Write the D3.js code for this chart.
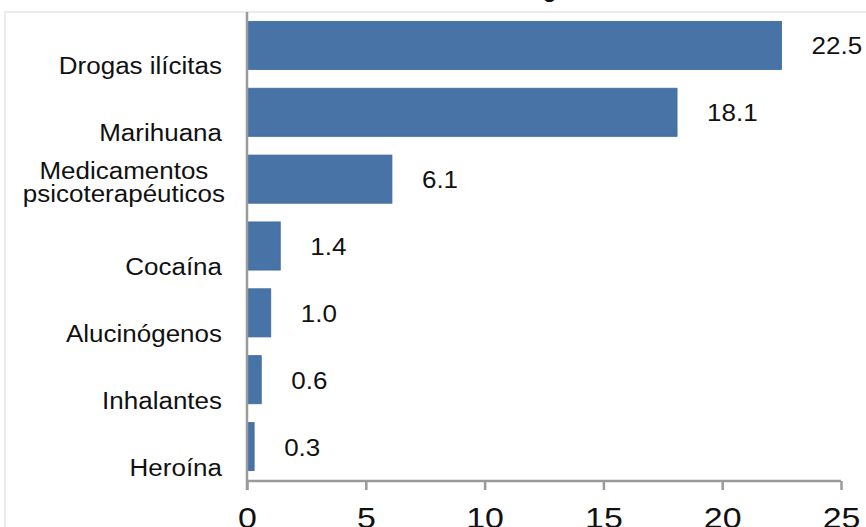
<!DOCTYPE html>
<html>
<head>
<meta charset="utf-8">
<script src="https://cdn.jsdelivr.net/npm/d3@7"></script>
<style>
  html, body { margin: 0; padding: 0; background: #fff; overflow: hidden; }
  svg { display: block; }
  text { font-family: "Liberation Sans", Arial, sans-serif; fill: #111; }
</style>
</head>
<body>
<svg id="chart" width="866" height="527"></svg>
<script>
// Percentages by substance
const categories = [
  "Drogas ilícitas",
  "Marihuana",
  "Medicamentos\npsicoterapéuticos",
  "Cocaína",
  "Alucinógenos",
  "Inhalantes",
  "Heroína"
];
const values = [22.5, 18.1, 6.1, 1.4, 1.0, 0.6, 0.3];
const valueLabels = ["22.5", "18.1", "6.1", "1.4", "1.0", "0.6", "0.3"];
const xTicks = [0, 5, 10, 15, 20, 25];
const titleText = "Consumo de drogas";

const svg = d3.select("#chart");
const W = 866, H = 527;
const stretch = 1.13;          // horizontal glyph stretch
const barColor = "#4773a6";
const axisColor = "#9a9a9a";

// outer frame (runs past the visible edges)
svg.append("rect")
  .attr("x", 5).attr("y", 12)
  .attr("width", W + 20).attr("height", H + 20)
  .attr("fill", "none")
  .attr("stroke", "#ececec")
  .attr("stroke-width", 2);

const x = d3.scaleLinear().domain([0, 25]).range([247, 841]);
const y = d3.scaleBand().domain(categories).range([12, 480])
  .paddingInner(0.28).paddingOuter(0.14);
const axisY = 481;

// title, mostly above the visible area
const title = svg.append("text")
  .attr("y", -3)
  .attr("font-size", 22)
  .attr("font-weight", "bold")
  .text(titleText);
const gIdx = titleText.indexOf("g");
const gPos = title.node().getStartPositionOfChar(gIdx).x;
title.attr("x", 543 - gPos);

// bars
svg.append("g").selectAll("rect")
  .data(values)
  .join("rect")
  .attr("x", x(0))
  .attr("y", (d, i) => y(categories[i]))
  .attr("width", d => x(d) - x(0))
  .attr("height", y.bandwidth())
  .attr("fill", barColor)
  .attr("stroke", "#3f6a9b")
  .attr("stroke-width", 0.8);

// value labels
svg.append("g").selectAll("text")
  .data(values)
  .join("text")
  .attr("transform", (d, i) =>
    `translate(${x(d) + 30},${y(categories[i]) + y.bandwidth() / 2 + 9}) scale(${stretch},1)`)
  .attr("font-size", 23)
  .text((d, i) => valueLabels[i]);

// x axis
const xAxis = d3.axisBottom(x).tickValues(xTicks).tickSize(9)
  .tickFormat(d3.format("d"));
const gx = svg.append("g").attr("transform", `translate(0,${axisY})`).call(xAxis);
gx.select(".domain").attr("stroke", axisColor).attr("stroke-width", 2.5)
  .attr("d", `M${x(0)},0H${x(25)}`);
gx.selectAll(".tick line").attr("stroke", axisColor).attr("stroke-width", 2.5);
// tick labels, stretched but centred on their ticks
gx.selectAll(".tick text")
  .attr("font-size", 30)
  .attr("font-family", "Liberation Sans, Arial, sans-serif")
  .attr("fill", "#111")
  .attr("dy", null)
  .attr("x", 0)
  .attr("y", 47)
  .attr("transform", `scale(${stretch},1)`);

// vertical axis line
svg.append("line")
  .attr("x1", x(0)).attr("x2", x(0))
  .attr("y1", 12).attr("y2", axisY + 9)
  .attr("stroke", axisColor)
  .attr("stroke-width", 2.5);

// category labels, right aligned against the axis
const labelRight = 222;
const lineH = 23;
const gl = svg.append("g");
categories.forEach(cat => {
  const lines = cat.split("\n");
  const cy = y(cat) + y.bandwidth() / 2;
  const firstBase = cy + 29 - (lines.length - 1) * 29;
  if (lines.length === 1) {
    gl.append("text")
      .attr("transform", `translate(${labelRight},${firstBase}) scale(${stretch},1)`)
      .attr("text-anchor", "end")
      .attr("font-size", 23)
      .text(cat);
  } else {
    // multi-line labels are centred within the widest line
    const tmp = lines.map(l => gl.append("text").attr("font-size", 23).text(l));
    const maxW = d3.max(tmp, t => t.node().getComputedTextLength()) * stretch;
    tmp.forEach(t => t.remove());
    lines.forEach((l, k) => {
      gl.append("text")
        .attr("transform", `translate(${labelRight - maxW / 2 + 3},${firstBase + k * lineH}) scale(${stretch},1)`)
        .attr("text-anchor", "middle")
        .attr("font-size", 23)
        .text(l);
    });
  }
});
</script>
</body>
</html>
